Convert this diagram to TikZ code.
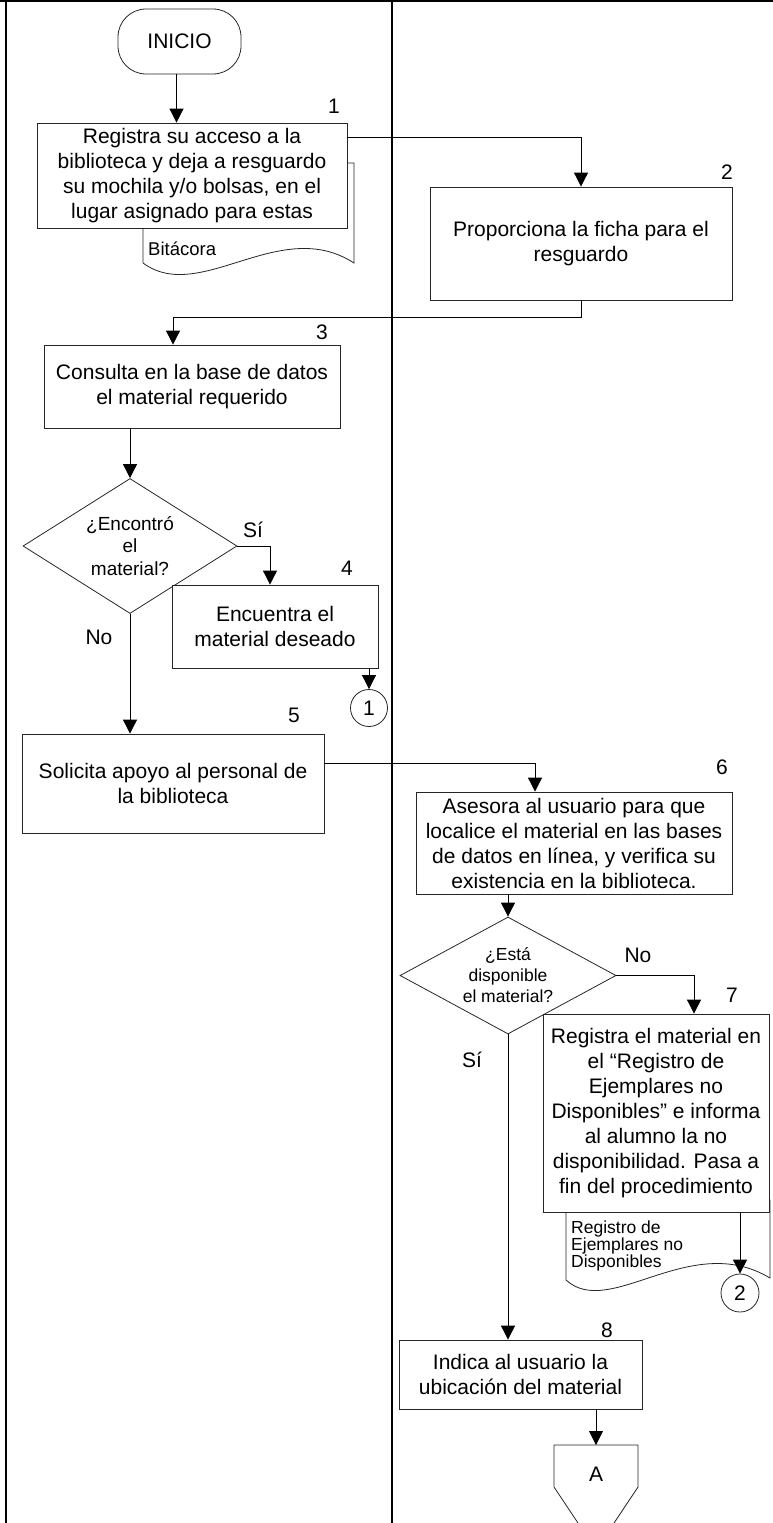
\documentclass[tikz,border=0pt]{standalone}
\usepackage{fontspec}
\setmainfont{Liberation Sans}
\usetikzlibrary{arrows.meta,calc,positioning,shapes.geometric}

\tikzset{
  box/.style={draw=black!85, fill=white, line width=0.8pt, align=center, inner sep=2pt, font=\fontsize{21}{25}\selectfont},
  decision/.style={draw=black!85, fill=white, diamond, aspect=1.6, line width=0.8pt, align=center, inner sep=0pt},
  conn/.style={draw=black!85, circle, fill=white, line width=0.8pt, inner sep=0pt, font=\fontsize{21}{25}\selectfont},
  flow/.style={line width=0.8pt, -{Triangle[length=14pt,width=14pt]}},
  plain/.style={draw=black!85, line width=0.8pt},
  lane/.style={line width=2pt},
  num/.style={font=\fontsize{21}{25}\selectfont},
  doctext/.style={font=\fontsize{17.5}{17}\selectfont, align=left, anchor=north west, inner sep=0pt},
}

\begin{document}
\begin{tikzpicture}[x=1pt,y=-1pt]
    \useasboundingbox (0,0) rectangle (773,1523);
    \clip (0,0) rectangle (773,1523);

    % lanes
    \draw[lane] (0,1) -- (773,1);
    \draw[lane] (6,0) -- (6,1523);
    \draw[lane] (392,0) -- (392,1523);

    % documents behind the boxes
    \draw[plain, fill=white] (143,163) -- (354,163) -- (354,263)
        .. controls (280,215) and (200,305) .. (143,263) -- cycle;
    \draw[plain, fill=white] (566,1200) -- (770,1200) -- (770,1278)
        .. controls (690,1230) and (610,1320) .. (566,1280) -- cycle;
    \node[doctext, font=\fontsize{18.5}{18}\selectfont] (doc1) at (148,242) {Bitácora};
    \node[doctext] (doc2) at (571,1221) {Registro de\\Ejemplares no\\Disponibles};

    % steps
    \node[box, rounded corners=28pt, minimum width=123pt, minimum height=65pt] (inicio) at (179.5,41.5) {INICIO};
    \node[box, minimum width=310pt, minimum height=105pt] (b1) at (192,175.5)
        {Registra su acceso a la\\biblioteca y deja a resguardo\\su mochila y/o bolsas, en el\\lugar asignado para estas};
    \node[box, minimum width=302pt, minimum height=113pt] (b2) at (581,243.5)
        {Proporciona la ficha para el\\resguardo};
    \node[box, minimum width=296pt, minimum height=83pt] (b3) at (192,386.5)
        {Consulta en la base de datos\\el material requerido};
    \node[decision, minimum width=214pt, minimum height=135pt, font=\fontsize{19}{22.5}\selectfont] (d1) at (130,546)
        {¿Encontró\\el\\material?};
    \node[box, minimum width=206pt, minimum height=83pt] (b4) at (275,626.5)
        {Encuentra el\\material deseado};
    \node[conn, minimum size=37pt] (c1) at (369,708) {1};
    \node[box, minimum width=302pt, minimum height=99pt] (b5) at (173,783.5)
        {Solicita apoyo al personal de\\la biblioteca};
    \node[box, minimum width=316pt, minimum height=102pt] (b6) at (574,843)
        {Asesora al usuario para que\\localice el material en las bases\\de datos en línea, y verifica su\\existencia en la biblioteca.};
    \node[decision, minimum width=216pt, minimum height=117pt, font=\fontsize{17.5}{21}\selectfont] (d2) at (508,975.5)
        {¿Está\\disponible\\el material?};
    \node[box, minimum width=226pt, minimum height=198pt] (b7) at (656,1113)
        {Registra el material en\\el “Registro de\\Ejemplares no\\Disponibles” e informa\\al alumno la no\\disponibilidad. Pasa a\\fin del procedimiento};
    \node[conn, minimum size=38pt] (c2) at (740,1293) {2};
    \node[box, minimum width=243pt, minimum height=69pt] (b8) at (520.5,1374.5)
        {Indica al usuario la\\ubicación del material};

    % off-page connector
    \draw[plain, fill=white] (554,1445) -- (638,1445) -- (638,1487) -- (596,1550) -- (554,1487) -- cycle;
    \node[num] (pA) at (596,1474) {A};
    \coordinate (pAtop) at (596,1445);

    % step numbers
    \foreach \n/\x/\y in {1/334/106, 2/727/172, 3/322/332, 4/347/568, 5/294/715, 6/722/767, 7/732/995, 8/607/1330}
        \node[num] (n\n) at (\x,\y) {\n};

    % answers
    \node[num] (si1) at (253,530) {Sí};
    \node[num] (no1) at (99,637) {No};
    \node[num] (no2) at (638,955) {No};
    \node[num] (si2) at (472,1060) {Sí};

    % flow
    \coordinate (j3) at (173,317);
    \coordinate (j6) at (535,763);
    \coordinate (j7) at (694,975.5);
    \draw[flow] ([xshift=-3pt]inicio.south) -- ([xshift=-3pt]inicio.south |- b1.north);
    \draw[flow] (b1.east |- 0,137) -| (b2);
    \draw[flow] (b2.south) |- (j3) -- (j3 |- b3.north);
    \draw[flow] (d1.north |- b3.south) -- (d1.north);
    \draw[flow] (d1.east) -| ([xshift=-5pt]b4.north);
    \draw[flow] (c1.north |- b4.south) -- (c1.north);
    \draw[flow] (d1.south) -- (d1.south |- b5.north);
    \draw[flow] (b5.east |- j6) -- (j6) -- (j6 |- b6.north);
    \draw[flow] (d2.north |- b6.south) -- (d2.north);
    \draw[flow] (d2.east) -- (j7) -- (j7 |- b7.north);
    \draw[flow] (c2.north |- b7.south) -- (c2.north);
    \draw[flow] (d2.south) -- (d2.south |- b8.north);
    \draw[flow] (b8.south -| pAtop) -- (pAtop);
\end{tikzpicture}
\end{document}
